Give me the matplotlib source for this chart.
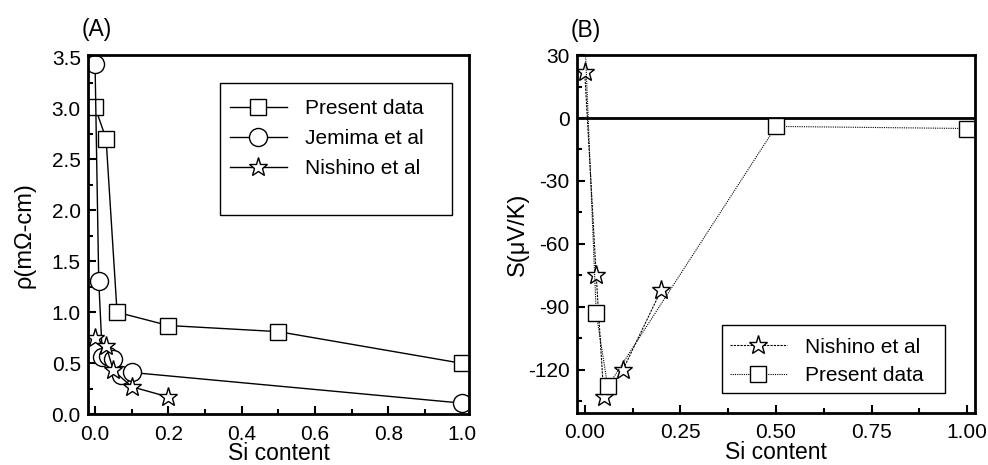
import numpy as np
import matplotlib
matplotlib.use("Agg")
import matplotlib.pyplot as plt
from matplotlib.patches import Rectangle
from matplotlib.ticker import MultipleLocator

plt.rcParams['font.family'] = ['Liberation Sans', 'DejaVu Sans']
plt.rcParams['axes.unicode_minus'] = False

# (A) resistivity vs Si content
present_x = [0.0, 0.03, 0.06, 0.2, 0.5, 1.0]
present_rho = [3.01, 2.70, 1.00, 0.87, 0.81, 0.50]
jemima_x = [0.0, 0.01, 0.02, 0.035, 0.05, 0.07, 0.10, 1.0]
jemima_rho = [3.43, 1.31, 0.56, 0.57, 0.54, 0.39, 0.41, 0.11]
nishino_x = [0.0, 0.03, 0.05, 0.10, 0.20]
nishino_rho = [0.75, 0.67, 0.43, 0.27, 0.17]

# (B) thermopower vs Si content
nishino_S_x = [0.0, 0.03, 0.05, 0.10, 0.20]
nishino_S = [22, -75, -133, -120, -82]
present_S_x = [0.0, 0.03, 0.06, 0.5, 1.0]
present_S = [40, -93, -128, -4, -5]

fig = plt.figure(figsize=(9.88, 4.65), dpi=100)
axA = fig.add_axes([0.0888, 0.109, 0.3862, 0.7727])
axB = fig.add_axes([0.5837, 0.1125, 0.4031, 0.769])

mk = dict(markerfacecolor='white', markeredgecolor='black', markeredgewidth=1.0, color='black')
leg_kw = dict(loc='upper left', frameon=False, fontsize=15, handlelength=2.75,
              handletextpad=0.85, borderpad=0.4)

axA.plot(present_x, present_rho, '-', marker='s', ms=12, lw=1.0, label='Present data', **mk)
axA.plot(jemima_x, jemima_rho, '-', marker='o', ms=13, lw=1.0, label='Jemima et al', **mk)
axA.plot(nishino_x, nishino_rho, '-', marker='*', ms=14, lw=1.0, label='Nishino et al', **mk)
axA.set_xlim(-0.02, 1.021)
axA.set_ylim(0, 3.52)
axA.xaxis.set_major_locator(MultipleLocator(0.2))
axA.xaxis.set_minor_locator(MultipleLocator(0.1))
axA.yaxis.set_minor_locator(MultipleLocator(0.25))
axA.set_yticks(np.arange(0, 3.51, 0.5))
axA.set_yticklabels([f"{v:.1f}" for v in np.arange(0, 3.51, 0.5)])
axA.set_xlabel('Si content', fontsize=16.5, labelpad=-1)
axA.set_ylabel('ρ(mΩ-cm)', fontsize=17, labelpad=11.5)
axA.add_patch(Rectangle((0.347, 0.555), 0.607, 0.368, transform=axA.transAxes,
                        fill=False, edgecolor='black', lw=1.0, zorder=5))
axA.legend(bbox_to_anchor=(0.323, 0.929), labelspacing=0.52, **leg_kw)

axB.axhline(0, color='black', lw=2.0)
axB.plot(nishino_S_x, nishino_S, linestyle=(0, (2, 1)), marker='*', ms=14, lw=0.8,
         label='Nishino et al', **mk)
axB.plot(present_S_x, present_S, linestyle=(0, (1, 1)), marker='s', ms=12, lw=0.8,
         label='Present data', **mk)
axB.set_xlim(-0.021, 1.02)
axB.set_ylim(-140.5, 30)
axB.xaxis.set_minor_locator(MultipleLocator(0.125))
axB.yaxis.set_major_locator(MultipleLocator(30))
axB.yaxis.set_minor_locator(MultipleLocator(15))
axB.set_xticks([0, 0.25, 0.5, 0.75, 1.0])
axB.set_xticklabels(['0.00', '0.25', '0.50', '0.75', '1.00'])
axB.set_xlabel('Si content', fontsize=16.5, labelpad=-1)
axB.set_ylabel('S(μV/K)', fontsize=17, labelpad=-1)
axB.add_patch(Rectangle((0.364, 0.054), 0.562, 0.191, transform=axB.transAxes,
                        fill=False, edgecolor='black', lw=1.0, zorder=5))
axB.legend(bbox_to_anchor=(0.337, 0.262), labelspacing=0.45, **leg_kw)

for ax, tag in ((axA, '(A)'), (axB, '(B)')):
    for s in ax.spines.values():
        s.set_linewidth(2.0)
    ax.tick_params(which='both', direction='in', top=False, right=False,
                   labelsize=15, width=1.5)
    ax.tick_params(which='major', length=6)
    ax.tick_params(which='minor', length=3.5)
    ax.tick_params(axis='x', pad=7.5)
    ax.tick_params(axis='y', pad=5)
    ax.text(-0.015, 1.07, tag, transform=ax.transAxes, fontsize=16.5, ha='left', va='center')

fig.savefig('out.png', dpi=100)
